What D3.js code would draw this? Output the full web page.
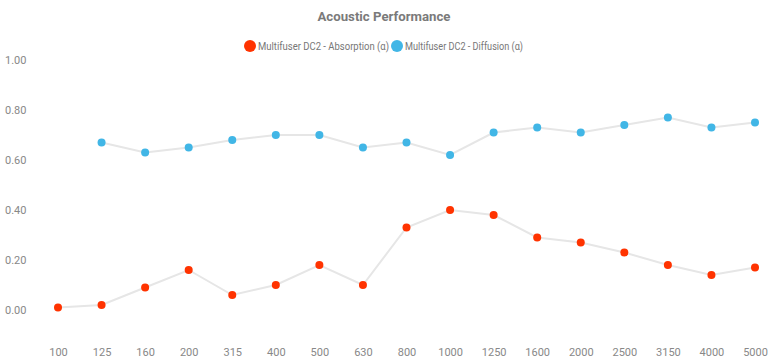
<!DOCTYPE html>
<html>
<head>
	<meta charset="utf-8">
	<title>Acoustic Performance</title>
	<script src="https://d3js.org/d3.v7.min.js"></script>
	<style>
		body { margin:0; background:#fff; }
		text { font-family: Roboto, "Liberation Sans", Arial, sans-serif; }
	</style>
</head>
<body>

<div id="viz"></div>

<script>

// Data
var frequencies = ["100","125","160","200","315","400","500","630","800","1000","1250","1600","2000","2500","3150","4000","5000"];
var absorption = [0.01,0.02,0.09,0.16,0.06,0.10,0.18,0.10,0.33,0.40,0.38,0.29,0.27,0.23,0.18,0.14,0.17];
var diffusion = [null,0.67,0.63,0.65,0.68,0.70,0.70,0.65,0.67,0.62,0.71,0.73,0.71,0.74,0.77,0.73,0.75];
var yTicks = [0, 0.2, 0.4, 0.6, 0.8, 1.0];
var seriesNames = ["Multifuser DC2 - Absorption (\u03b1)", "Multifuser DC2 - Diffusion (\u03b1)"];
var seriesColors = ["#ff3300", "#41b6e6"];

var W = 768, H = 362;

var svg = d3.select("#viz")
	.append("svg")
		.attr("width", W)
		.attr("height", H);

// Scales
var x = d3.scalePoint()
	.domain(frequencies)
	.range([58, 755]);

var y = d3.scaleLinear()
	.domain([0, 1])
	.range([310, 60]);

// Title
svg.append("text")
	.attr("x", 384)
	.attr("y", 21)
	.attr("text-anchor", "middle")
	.attr("font-size", 13.5)
	.attr("font-weight", "bold")
	.attr("fill", "#7a7a7a")
	.attr("textLength", 133)
	.attr("lengthAdjust", "spacingAndGlyphs")
	.text("Acoustic Performance");

// Legend
var legend = svg.append("g");
var lx = [250, 397];
var lw = [131, 118];
seriesNames.forEach(function(name, i) {
	legend.append("circle")
		.attr("cx", lx[i])
		.attr("cy", 46)
		.attr("r", 6)
		.attr("fill", seriesColors[i]);
	legend.append("text")
		.attr("x", lx[i] + 8)
		.attr("y", 50)
		.attr("font-size", 11)
		.attr("fill", "#777")
		.attr("textLength", lw[i])
		.attr("lengthAdjust", "spacingAndGlyphs")
		.text(name);
});

// Y axis (labels only)
var yAxis = svg.append("g")
	.attr("transform", "translate(5,0)")
	.call(d3.axisRight(y).tickValues(yTicks).tickSize(0).tickFormat(d3.format(".2f")));
yAxis.select(".domain").remove();
yAxis.selectAll("text")
	.attr("x", 0)
	.attr("font-size", 11)
	.attr("fill", "#888")
	.style("font-family", "Roboto, 'Liberation Sans', Arial, sans-serif");

// X axis (labels only)
var xAxis = svg.append("g")
	.attr("transform", "translate(0,345)")
	.call(d3.axisBottom(x).tickSize(0));
xAxis.select(".domain").remove();
xAxis.selectAll("text")
	.attr("font-size", 11)
	.attr("fill", "#888")
	.style("font-family", "Roboto, 'Liberation Sans', Arial, sans-serif");

// Lines and points
var series = [absorption, diffusion];
var line = d3.line()
	.defined(function(d) { return d != null; })
	.x(function(d, i) { return x(frequencies[i]); })
	.y(function(d) { return y(d); });

series.forEach(function(values, s) {
	svg.append("path")
		.datum(values)
		.attr("fill", "none")
		.attr("stroke", "#e6e6e6")
		.attr("stroke-width", 2)
		.attr("d", line);
});

series.forEach(function(values, s) {
	svg.append("g").selectAll("circle")
		.data(values.map(function(v, i) { return {f: frequencies[i], v: v}; })
			.filter(function(d) { return d.v != null; }))
		.enter().append("circle")
			.attr("cx", function(d) { return x(d.f); })
			.attr("cy", function(d) { return y(d.v); })
			.attr("r", 4)
			.attr("fill", seriesColors[s]);
});

</script>

</body>
</html>
